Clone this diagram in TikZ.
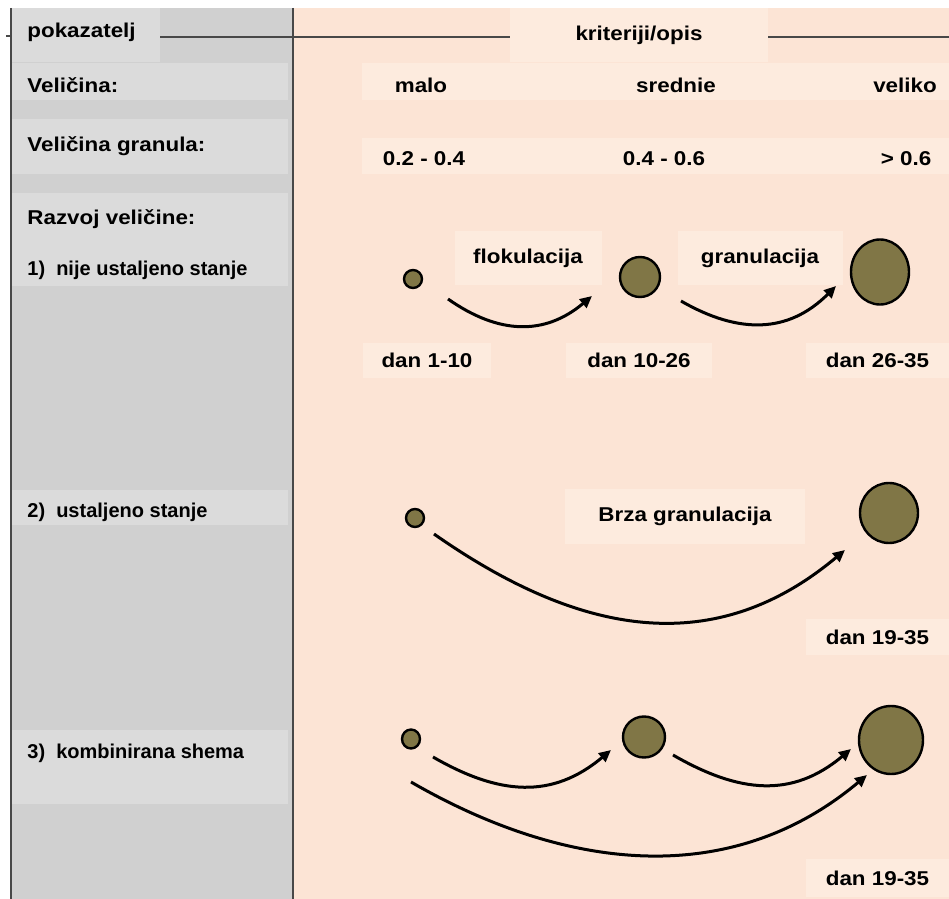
\documentclass[tikz,border=0pt]{standalone}
\usepackage{fontspec}
\setmainfont{Liberation Sans}[FakeStretch=1.12]
\newfontfamily\itemfont{Liberation Sans}
\usetikzlibrary{shapes.geometric,arrows.meta}
\definecolor{panelgray}{RGB}{208,208,208}
\definecolor{rowgray}{RGB}{219,219,219}
\definecolor{peach}{RGB}{252,228,213}
\definecolor{lightpeach}{RGB}{253,235,222}
\definecolor{granule}{RGB}{128,118,70}
\definecolor{rulegray}{RGB}{72,72,72}
\tikzset{
  rowtext/.style={font=\bfseries, inner sep=0pt},
  itemtext/.style={font=\itemfont\bfseries\fontsize{10}{12}\selectfont, inner sep=0pt, anchor=base west},
  peachbox/.style={rowtext, fill=lightpeach, minimum height=27pt},
  daybox/.style={rowtext, fill=lightpeach, minimum height=17.5pt},
  granula/.style={ellipse, draw=black, line width=1.2pt, fill=granule, inner sep=0pt},
  flow/.style={-{Triangle[length=6pt,width=5.5pt]}, line width=1.5pt, looseness=1.1},
}
\begin{document}
\begin{tikzpicture}[x=0.5pt, y=0.5pt]
\useasboundingbox (0,0) rectangle (949,-899);
\fill[panelgray] (11,-8) rectangle (293,-899);
\fill[peach] (293,-8) rectangle (949,-899);
\fill[rowgray] (11,-8) rectangle (160,-62);
\fill[rowgray] (11,-63) rectangle (288,-100);
\fill[rowgray] (11,-119) rectangle (288,-174);
\fill[rowgray] (11,-193) rectangle (288,-286);
\fill[rowgray] (11,-490) rectangle (288,-525);
\fill[rowgray] (11,-730) rectangle (288,-804);
\fill[lightpeach] (362,-63) rectangle (949,-100);
\fill[lightpeach] (362,-138) rectangle (949,-174);
\draw[rulegray, line width=0.7pt] (11,-8) -- (11,-899);
\draw[rulegray, line width=0.7pt] (6,-36) -- (11,-36);
\draw[rulegray, line width=1pt] (293,-8) -- (293,-899);
\draw[rulegray, line width=1pt] (160,-37) -- (510,-37);
\draw[rulegray, line width=1pt] (768,-37) -- (949,-37);

\node[peachbox, minimum width=129pt] (crit) at (639,-35) {kriteriji/opis};
\node[rowtext, anchor=base west] (pok) at (27,-38) {pokazatelj};
\node[rowtext, anchor=base west] (vel) at (27,-93) {Veličina:};
\node[rowtext, anchor=base west] (velg) at (27,-152) {Veličina granula:};
\node[rowtext, anchor=base west] (razvoj) at (27,-225) {Razvoj veličine:};
\node[itemtext] (item1) at (27,-276) {1)\ \ nije ustaljeno stanje};
\node[itemtext] (item2) at (27,-517) {2)\ \ ustaljeno stanje};
\node[itemtext] (item3) at (27,-758) {3)\ \ kombinirana shema};

\node[rowtext, anchor=base] (malo) at (421,-93) {malo};
\node[rowtext, anchor=base] (srednie) at (676,-93) {srednie};
\node[rowtext, anchor=base] (veliko) at (905,-93) {veliko};
\node[rowtext, anchor=base] (vmalo) at (424,-166) {0.2 - 0.4};
\node[rowtext, anchor=base] (vsred) at (664,-166) {0.4 - 0.6};
\node[rowtext, anchor=base] (vvel) at (906,-166) {> 0.6};

\node[peachbox, minimum width=73.5pt] (flok) at (528,-258) {flokulacija};
\node[peachbox, minimum width=82.5pt] (gran) at (760,-258) {granulacija};
\node[daybox, minimum width=64pt] (d1) at (427,-360) {dan 1-10};
\node[daybox, minimum width=73pt] (d2) at (639,-360) {dan 10-26};
\node[daybox, minimum width=71.5pt] (d3) at (877.5,-360) {dan 26-35};
\node[granula, minimum width=9pt, minimum height=9pt] (s1) at (413,-279) {};
\node[granula, minimum width=20pt, minimum height=20pt] (m1) at (640,-277) {};
\node[granula, minimum width=29pt, minimum height=32.5pt] (l1) at (880,-272) {};
\coordinate (f1a) at (448,-299);
\coordinate (f1b) at (592,-296);
\coordinate (f2a) at (681,-301);
\coordinate (f2b) at (836,-286);
\draw[flow] (f1a) to[out=-35, in=-140] (f1b);
\draw[flow] (f2a) to[out=-30, in=-135] (f2b);

\node[peachbox, minimum width=120pt, minimum height=27.5pt] (brza) at (685,-516.5) {Brza granulacija};
\node[daybox, minimum width=71.5pt, minimum height=18pt] (d4) at (877.5,-637) {dan 19-35};
\node[granula, minimum width=9pt, minimum height=9pt] (s2) at (415,-518) {};
\node[granula, minimum width=29pt, minimum height=30pt] (l2) at (889,-513) {};
\coordinate (f3a) at (434,-534);
\coordinate (f3b) at (845,-550);
\draw[flow] (f3a) to[out=-35, in=-140, looseness=1.08] (f3b);

\node[daybox, minimum width=71.5pt, minimum height=19pt] (d5) at (877.5,-878) {dan 19-35};
\node[granula, minimum width=9pt, minimum height=9.5pt] (s3) at (411,-739) {};
\node[granula, minimum width=21pt, minimum height=20.5pt] (m3) at (644,-737) {};
\node[granula, minimum width=32pt, minimum height=34pt] (l3) at (891,-740) {};
\coordinate (f4a) at (433,-757);
\coordinate (f4b) at (611,-750);
\coordinate (f5a) at (673,-755);
\coordinate (f5b) at (851,-749);
\coordinate (f6a) at (411,-782);
\coordinate (f6b) at (867,-775);
\draw[flow] (f4a) to[out=-30, in=-140] (f4b);
\draw[flow] (f5a) to[out=-30, in=-140] (f5b);
\draw[flow] (f6a) to[out=-30, in=-140, looseness=1] (f6b);
\end{tikzpicture}
\end{document}
